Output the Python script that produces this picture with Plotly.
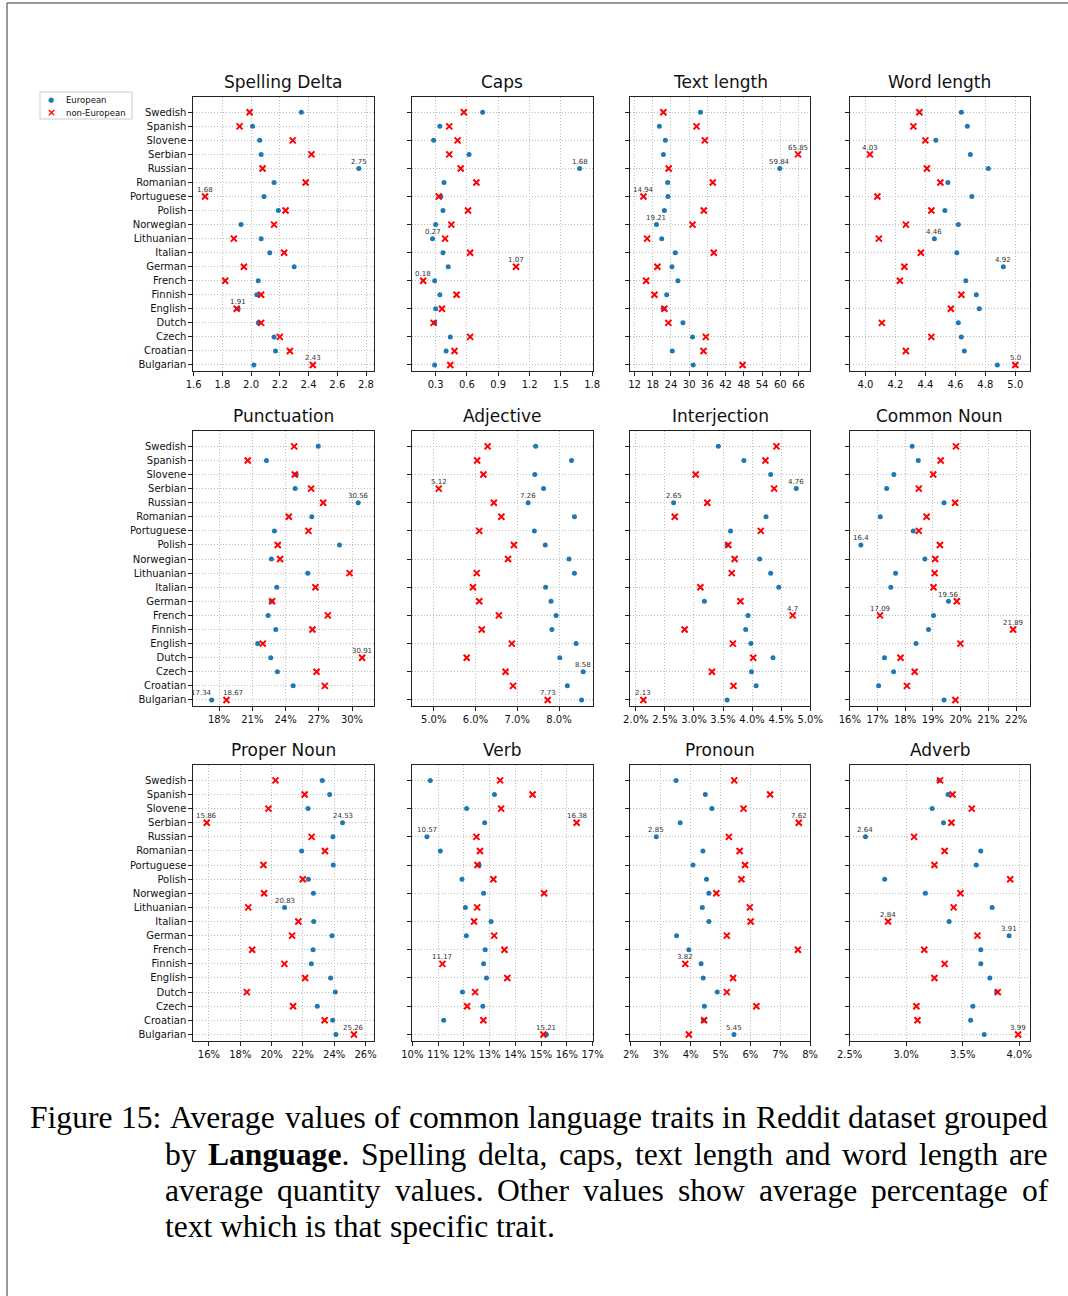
import plotly.graph_objects as go

W, H = 1068, 1296

# Languages listed top to bottom as they appear on the y axis
languages = ["Swedish", "Spanish", "Slovene", "Serbian", "Russian", "Romanian",
             "Portuguese", "Polish", "Norwegian", "Lithuanian", "Italian", "German",
             "French", "Finnish", "English", "Dutch", "Czech", "Croatian", "Bulgarian"]

spelling_eu = [2.35, 2.01, 2.06, 2.07, 2.75, 2.16, 2.09, 2.19, 1.93, 2.07,
               2.13, 2.30, 2.05, 2.04, 1.91, 2.05, 2.16, 2.17, 2.02]
spelling_non = [1.99, 1.92, 2.29, 2.42, 2.08, 2.38, 1.68, 2.24, 2.16, 1.88,
                2.23, 1.95, 1.82, 2.07, 1.90, 2.07, 2.20, 2.27, 2.43]

caps_eu = [0.75, 0.34, 0.28, 0.62, 1.68, 0.38, 0.35, 0.37, 0.30, 0.27,
           0.37, 0.42, 0.29, 0.34, 0.30, 0.29, 0.44, 0.40, 0.29]
caps_non = [0.57, 0.43, 0.51, 0.43, 0.54, 0.69, 0.33, 0.61, 0.45, 0.39,
            0.63, 1.07, 0.18, 0.50, 0.36, 0.28, 0.63, 0.48, 0.44]

textlen_eu = [33.73, 20.18, 22.15, 21.49, 59.84, 22.91, 23.02, 21.82, 19.21, 20.95,
              25.43, 24.33, 26.30, 22.59, 21.49, 27.94, 31.11, 24.44, 31.32]
textlen_non = [21.49, 32.42, 35.15, 65.85, 23.24, 37.77, 14.94, 34.82, 31.11, 16.14,
               38.10, 19.53, 15.81, 18.54, 21.82, 23.13, 35.48, 34.71, 47.60]

wordlen_eu = [4.64, 4.68, 4.47, 4.70, 4.82, 4.55, 4.71, 4.53, 4.62, 4.46,
              4.61, 4.92, 4.67, 4.74, 4.76, 4.62, 4.64, 4.66, 4.88]
wordlen_non = [4.36, 4.32, 4.40, 4.03, 4.41, 4.50, 4.08, 4.44, 4.27, 4.09,
               4.37, 4.26, 4.23, 4.64, 4.57, 4.11, 4.44, 4.27, 5.0]

punct_eu = [26.95, 22.28, 24.96, 24.87, 30.56, 26.37, 23.00, 28.87, 22.73, 26.01,
            23.21, 22.73, 22.43, 23.12, 21.49, 22.67, 23.27, 24.69, 17.34]
punct_non = [24.78, 20.59, 24.84, 26.31, 27.40, 24.30, 26.07, 23.30, 23.51, 29.78,
             26.70, 22.79, 27.82, 26.43, 21.95, 30.91, 26.80, 27.55, 18.67]

adj_eu = [7.44, 8.30, 7.42, 7.63, 7.26, 8.37, 7.41, 7.67, 8.24, 8.37,
          7.68, 7.81, 7.93, 7.83, 8.41, 8.02, 8.58, 8.20, 8.54]
adj_non = [6.29, 6.04, 6.19, 5.12, 6.44, 6.62, 6.09, 6.92, 6.78, 6.03,
           5.94, 6.09, 6.56, 6.15, 6.87, 5.79, 6.72, 6.90, 7.73]

interj_eu = [3.42, 3.86, 4.32, 4.76, 2.65, 4.24, 3.63, 3.57, 4.13, 4.32,
             4.46, 3.18, 3.93, 3.89, 3.98, 4.36, 3.99, 4.07, 3.57]
interj_non = [4.42, 4.23, 3.03, 4.38, 3.23, 2.67, 4.15, 3.59, 3.70, 3.65,
              3.11, 3.80, 4.70, 2.84, 3.67, 4.02, 3.31, 3.68, 2.13]

cnoun_eu = [18.25, 18.47, 17.59, 17.33, 19.40, 17.10, 18.29, 16.40, 18.71, 17.65,
            17.48, 19.56, 19.02, 18.84, 18.39, 17.25, 17.58, 17.04, 19.40]
cnoun_non = [19.83, 19.28, 19.01, 18.49, 19.80, 18.77, 18.49, 19.25, 19.08, 19.06,
             19.02, 19.86, 17.09, 21.89, 19.99, 17.83, 18.34, 18.06, 19.81]

pnoun_eu = [23.24, 23.71, 22.33, 24.53, 23.92, 21.92, 23.94, 22.35, 22.67, 20.83,
            22.69, 23.86, 22.65, 22.54, 23.77, 24.07, 22.92, 23.90, 24.11]
pnoun_non = [20.25, 22.11, 19.80, 15.86, 22.56, 23.41, 19.48, 21.99, 19.52, 18.51,
             21.71, 21.31, 18.76, 20.82, 22.14, 18.42, 21.37, 23.39, 25.26]

verb_eu = [10.70, 13.19, 12.11, 12.81, 10.57, 11.09, 12.59, 11.93, 12.77, 12.06,
           13.06, 12.10, 12.83, 12.77, 12.88, 11.95, 12.74, 11.22, 15.21]
verb_non = [13.41, 14.67, 13.45, 16.38, 12.49, 12.63, 12.53, 13.15, 15.12, 12.52,
            12.40, 13.18, 13.58, 11.17, 13.69, 12.44, 12.13, 12.76, 15.09]

pronoun_eu = [3.51, 4.49, 4.71, 3.65, 2.85, 4.41, 4.08, 4.53, 4.61, 4.39,
              4.61, 3.53, 3.94, 4.35, 4.42, 4.89, 4.46, 4.43, 5.45]
pronoun_non = [5.46, 6.66, 5.77, 7.62, 5.28, 5.64, 5.82, 5.70, 4.86, 5.98,
               6.01, 5.21, 7.59, 3.82, 5.42, 5.21, 6.20, 4.45, 3.94]

adverb_eu = [3.29, 3.37, 3.23, 3.33, 2.64, 3.66, 3.62, 2.81, 3.17, 3.76,
             3.38, 3.91, 3.66, 3.66, 3.74, 3.80, 3.59, 3.57, 3.69]
adverb_non = [3.30, 3.41, 3.58, 3.40, 3.07, 3.34, 3.25, 3.92, 3.48, 3.42,
              2.84, 3.63, 3.16, 3.34, 3.25, 3.81, 3.09, 3.10, 3.99]

titles = ["Spelling Delta", "Caps", "Text length", "Word length",
          "Punctuation", "Adjective", "Interjection", "Common Noun",
          "Proper Noun", "Verb", "Pronoun", "Adverb"]

series = [(spelling_eu, spelling_non), (caps_eu, caps_non),
          (textlen_eu, textlen_non), (wordlen_eu, wordlen_non),
          (punct_eu, punct_non), (adj_eu, adj_non),
          (interj_eu, interj_non), (cnoun_eu, cnoun_non),
          (pnoun_eu, pnoun_non), (verb_eu, verb_non),
          (pronoun_eu, pronoun_non), (adverb_eu, adverb_non)]

legend_labels = ["European", "non-European"]

# axis settings: (range, tick0, dtick, tickformat, suffix)
axis_cfg = [
    ([1.598, 2.852], 1.6, 0.2, ".1f", ""),
    ([0.073, 1.805], 0.3, 0.3, ".1f", ""),
    ([10.5, 69.9], 12, 6, "d", ""),
    ([3.894, 5.098], 4.0, 0.2, ".1f", ""),
    ([15.68, 31.94], 18, 3, "d", "%"),
    ([4.48, 8.807], 5, 1, ".1f", "%"),
    ([1.9, 5.002], 2.0, 0.5, ".1f", "%"),
    ([15.99, 22.5], 16, 1, "d", "%"),
    ([15.0, 26.51], 16, 2, "d", "%"),
    ([9.99, 17.005], 10, 1, "d", "%"),
    ([1.97, 8.005], 2, 1, "d", "%"),
    ([2.499, 4.095], 2.5, 0.5, ".1f", "%"),
]

# sideways nudges (px) for value labels that would collide: (panel, series, kind)
label_nudge = {(4, 0, "min"): -10, (4, 1, "min"): 7}

EU_COLOR = "#1f77b4"
NON_COLOR = "#ff0000"
FONT = "DejaVu Sans"

# pixel boxes of the panels
col_px = [(193.3, 373.5), (412.0, 592.7), (630.0, 810.3), (849.5, 1030.0)]
row_px = [(97.0, 371.0), (431.0, 706.0), (765.0, 1040.5)]

cat_order = languages[::-1]  # bottom to top
n = len(languages)


def px(x):
    return x / W


def py(y):
    return 1 - y / H


fig = go.Figure()
annotations = []
layout_axes = {}

for k, title in enumerate(titles):
    r, c = divmod(k, 4)
    x0, x1 = col_px[c]
    y0, y1 = row_px[r]
    sfx = "" if k == 0 else str(k + 1)
    xa, ya = "x" + sfx, "y" + sfx
    eu, non = series[k]
    rng, t0, dt, fmt, suffix = axis_cfg[k]

    fig.add_trace(go.Scatter(
        x=eu, y=languages, xaxis=xa, yaxis=ya, mode="markers",
        name=legend_labels[0], showlegend=False,
        marker=dict(color=EU_COLOR, size=5, symbol="circle"),
    ))
    fig.add_trace(go.Scatter(
        x=non, y=languages, xaxis=xa, yaxis=ya, mode="markers",
        name=legend_labels[1], showlegend=False,
        marker=dict(color=NON_COLOR, size=6, symbol="x-thin",
                    line=dict(color=NON_COLOR, width=2)),
    ))

    common = dict(showline=True, mirror=True, linecolor="#222222", linewidth=1,
                  ticks="outside", ticklen=4, tickwidth=1, tickcolor="#222222",
                  showgrid=True, gridcolor="#bdbdbd", gridwidth=1, griddash="1px,2px",
                  zeroline=False, automargin=False,
                  tickfont=dict(size=10, color="#111111", family=FONT))
    layout_axes["xaxis" + sfx] = dict(
        common, domain=[px(x0), px(x1)], anchor=ya, range=rng,
        tick0=t0, dtick=dt, tickformat=fmt, ticksuffix=suffix,
    )
    layout_axes["yaxis" + sfx] = dict(
        common, domain=[py(y1), py(y0)], anchor=xa,
        type="category", categoryorder="array", categoryarray=cat_order,
        range=[-0.43, 19.09], showticklabels=(c == 0),
    )

    # panel title
    annotations.append(dict(
        text=title, xref="paper", yref="paper", x=px((x0 + x1) / 2),
        y=py(y0 - 15), xanchor="center", yanchor="middle", showarrow=False,
        font=dict(size=17, family=FONT, color="#111111")))

    # label the smallest and largest value of each series
    for s, vals in enumerate((eu, non)):
        for kind, idx in (("min", vals.index(min(vals))), ("max", vals.index(max(vals)))):
            annotations.append(dict(
                text=str(round(vals[idx], 2)), xref=xa, yref=ya,
                x=vals[idx], y=n - 1 - idx, xanchor="center", yanchor="middle",
                xshift=label_nudge.get((k, s, kind), 0), yshift=6.5,
                showarrow=False, borderpad=0, borderwidth=0,
                font=dict(size=7, family=FONT, color="#333333")))

# Legend box (top-left, outside the first panel)
legend_items = [("●", EU_COLOR, 7, legend_labels[0], 99.5),
                ("<b>×</b>", NON_COLOR, 11, legend_labels[1], 112.5)]
for sym, col, size, label, ly in legend_items:
    annotations.append(dict(
        text=sym, xref="paper", yref="paper", x=px(51), y=py(ly),
        xanchor="center", yanchor="middle", showarrow=False, borderpad=0,
        borderwidth=0, font=dict(size=size, family=FONT, color=col)))
    annotations.append(dict(
        text=label, xref="paper", yref="paper", x=px(66), y=py(ly),
        xanchor="left", yanchor="middle", showarrow=False, borderpad=0,
        borderwidth=0, font=dict(size=8.5, family=FONT, color="#111111")))

# Caption, laid out word by word and justified (Times-compatible metrics)
caption_lines = [
    "Figure 15: Average values of common language traits in Reddit dataset grouped",
    "by **Language**. Spelling delta, caps, text length and word length are",
    "average quantity values. Other values show average percentage of",
    "text which is that specific trait.",
]
line_geom = [(30, 1048, 1117), (165, 1048, 1154), (165, 1048, 1190), (165, None, 1226)]

regular_w = {'a': 444, 'b': 500, 'c': 444, 'd': 500, 'e': 444, 'f': 333, 'g': 500,
             'h': 500, 'i': 278, 'j': 278, 'k': 500, 'l': 278, 'm': 778, 'n': 500,
             'o': 500, 'p': 500, 'q': 500, 'r': 333, 's': 389, 't': 278, 'u': 500,
             'v': 500, 'w': 722, 'x': 500, 'y': 500, 'z': 444, 'A': 722, 'F': 556,
             'O': 722, 'R': 667, 'S': 556, 'L': 611, '1': 500, '5': 500, ':': 278,
             '.': 250, ',': 250}
bold_w = {'L': 667, 'a': 500, 'n': 556, 'g': 500, 'u': 556, 'e': 444}
CAP_SIZE = 31.6
SPACE = 250


def word_width(word):
    total = 0
    bold = False
    i = 0
    while i < len(word):
        if word.startswith("**", i):
            bold = not bold
            i += 2
            continue
        total += (bold_w if bold else regular_w).get(word[i], 500)
        i += 1
    return total * CAP_SIZE / 1000.0


def to_html(word):
    parts = word.split("**")
    return "".join(("<b>%s</b>" % p) if j % 2 == 1 else p for j, p in enumerate(parts))


for line, (lx0, lx1, ly) in zip(caption_lines, line_geom):
    words = line.split(" ")
    widths = [word_width(w_) for w_ in words]
    if lx1 is None:
        gap = SPACE * CAP_SIZE / 1000.0
    else:
        gap = (lx1 - lx0 - sum(widths)) / (len(words) - 1)
    xpos = lx0
    for w_, wd in zip(words, widths):
        annotations.append(dict(
            text=to_html(w_), xref="paper", yref="paper", x=px(xpos), y=py(ly),
            xanchor="left", yanchor="middle", showarrow=False, borderpad=0,
            borderwidth=0, font=dict(size=CAP_SIZE, family="Liberation Serif",
                                     color="#000000")))
        xpos += wd + gap

# page frame lines and legend frame
shapes = [
    dict(type="line", xref="paper", yref="paper", x0=px(7), x1=1.0,
         y0=py(3), y1=py(3), line=dict(color="#333333", width=1)),
    dict(type="line", xref="paper", yref="paper", x0=px(7), x1=px(7),
         y0=0, y1=py(3), line=dict(color="#333333", width=1)),
    dict(type="rect", xref="paper", yref="paper", x0=px(40), x1=px(132),
         y0=py(119), y1=py(92), line=dict(color="#cccccc", width=1),
         fillcolor="white", layer="above"),
]

fig.update_layout(
    width=W, height=H, autosize=False,
    margin=dict(l=0, r=0, t=0, b=0, pad=0, autoexpand=False),
    paper_bgcolor="white", plot_bgcolor="white",
    font=dict(family=FONT, color="#111111"),
    annotations=annotations, shapes=shapes, showlegend=False,
    **layout_axes,
)

fig.write_html("out.html")
